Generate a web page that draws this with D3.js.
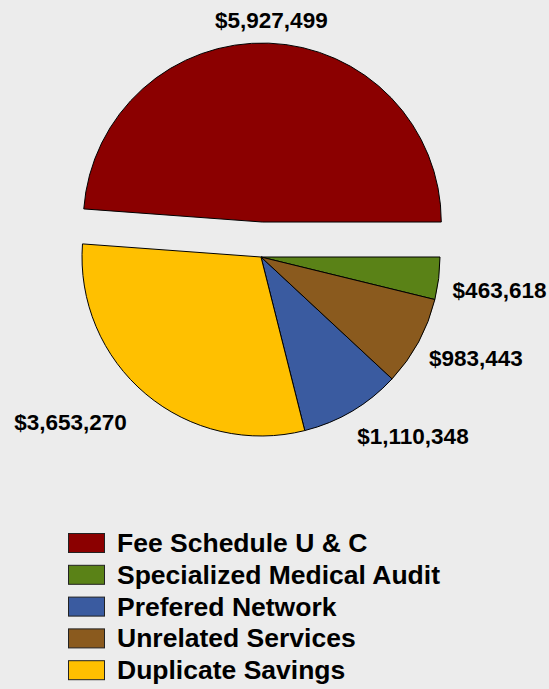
<!DOCTYPE html>
<html>
<head>
<meta charset="utf-8">
<script src="https://cdn.jsdelivr.net/npm/d3@7"></script>
<style>
  html, body { margin: 0; padding: 0; background: #ececec; }
  svg { display: block; }
  text { font-family: "Liberation Sans", Arial, sans-serif; font-weight: bold; fill: #000; }
</style>
</head>
<body>
<svg id="chart" width="549" height="689"></svg>
<script>
// Savings by category (legend order)
const categories = ["Fee Schedule U & C", "Specialized Medical Audit", "Prefered Network", "Unrelated Services", "Duplicate Savings"];
const values = [5927499, 463618, 1110348, 983443, 3653270];
const colors = ["#8b0000", "#5a8217", "#3a5ba0", "#8a5a1e", "#ffc000"];
// Order the slices are laid out around the pie, clockwise from 3 o'clock
const sliceOrder = ["Specialized Medical Audit", "Unrelated Services", "Prefered Network", "Duplicate Savings", "Fee Schedule U & C"];
const explodedSlice = "Fee Schedule U & C";
// Small tweaks for individual value labels
const labelNudgeX = [2, 0, -2, -2, -10];
const labelNudgeY = [-5, 4, 0, 0, 5];

const W = 549, H = 689;
const cx = 261, cy = 257, radius = 179, explode = 35;
const labelRadius = 193;

const svg = d3.select("#chart");
const data = categories.map((c, i) => ({ name: c, value: values[i], color: colors[i], nx: labelNudgeX[i], ny: labelNudgeY[i] }));

const pie = d3.pie()
  .value(d => d.value)
  .sort((a, b) => sliceOrder.indexOf(a.name) - sliceOrder.indexOf(b.name))
  .startAngle(Math.PI / 2)
  .endAngle(Math.PI / 2 + 2 * Math.PI);

const arcs = pie(data);
const arc = d3.arc().innerRadius(0).outerRadius(radius);
const fmt = d3.format("$,");

const g = svg.append("g").attr("transform", `translate(${cx},${cy})`);

arcs.forEach(a => {
  const mid = (a.startAngle + a.endAngle) / 2;
  // screen direction of the slice's middle
  const ux = Math.sin(mid), uy = -Math.cos(mid);
  const off = a.data.name === explodedSlice ? explode : 0;
  const sg = g.append("g").attr("transform", `translate(${ux * off},${uy * off})`);
  sg.append("path")
    .attr("d", arc(a))
    .attr("fill", a.data.color)
    .attr("stroke", "#000")
    .attr("stroke-width", 1)
    .attr("stroke-linejoin", "round");

  const px = ux * labelRadius, py = uy * labelRadius;
  let anchor = "middle";
  if (ux > 0.3) anchor = "start";
  else if (ux < -0.3) anchor = "end";
  sg.append("text")
    .attr("x", px + a.data.nx)
    .attr("y", py + uy * 9 + 13 + a.data.ny)
    .attr("text-anchor", anchor)
    .style("font-size", "22.5px")
    .text(fmt(a.data.value));
});

// Legend
const legend = svg.append("g").attr("transform", "translate(68,533)");
const rowH = 31.8;
data.forEach((d, i) => {
  const row = legend.append("g").attr("transform", `translate(0,${i * rowH})`);
  row.append("rect")
    .attr("x", 0.5).attr("y", 0.5)
    .attr("width", 36).attr("height", 19)
    .attr("fill", d.color)
    .attr("stroke", "#222")
    .attr("stroke-width", 1);
  row.append("text")
    .attr("x", 49)
    .attr("y", 19)
    .style("font-size", "26.5px")
    .text(d.name);
});
</script>
</body>
</html>
